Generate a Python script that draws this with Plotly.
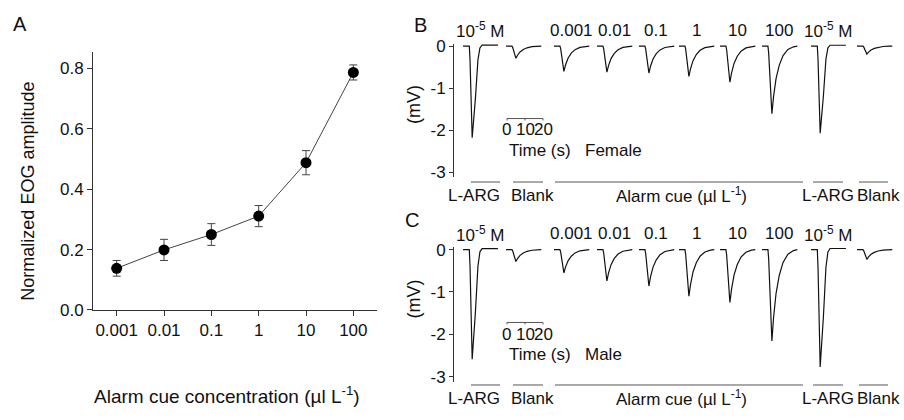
import plotly.graph_objects as go

W, H = 904, 420

# ---------------- Panel A data ----------------
conc = [0.001, 0.01, 0.1, 1, 10, 100]
conc_labels = ["0.001", "0.01", "0.1", "1", "10", "100"]
eog_mean = [0.138, 0.199, 0.250, 0.311, 0.488, 0.787]
eog_err = [0.026, 0.035, 0.036, 0.035, 0.040, 0.025]
a_yticks = [0.0, 0.2, 0.4, 0.6, 0.8]
a_yticklabels = ["0.0", "0.2", "0.4", "0.6", "0.8"]

# ---------------- Panels B/C data (EOG traces) ----------------
stimuli = ["L-ARG", "Blank", "0.001", "0.01", "0.1", "1", "10", "100", "L-ARG", "Blank"]
top_labels = ["10<sup>-5</sup> M", "", "0.001", "0.01", "0.1", "1", "10", "100", "10<sup>-5</sup> M", ""]
female_peak_mv = [-2.18, -0.29, -0.60, -0.62, -0.64, -0.72, -0.86, -1.61, -2.07, -0.19]
male_peak_mv = [-2.59, -0.28, -0.55, -0.74, -0.86, -1.10, -1.25, -2.16, -2.77, -0.23]
# response shapes (time in s, fraction of peak)
fast_t = [0.0, 3.5, 3.9, 5.1, 6.9, 8.3, 9.4, 10.6, 13.0, 19.4]
fast_f = [0.0, 0.0, -0.15, -1.0, -0.57, -0.15, -0.02, 0.01, 0.01, 0.01]
slow_t = [0.0, 3.3, 3.7, 4.5, 5.5, 6.4, 7.8, 9.6, 11.7, 14.4, 17.5, 19.6]
slow_f = [0.0, 0.0, -0.1, -0.55, -1.0, -0.75, -0.48, -0.28, -0.14, -0.05, -0.01, 0.0]
trace_mv_ticks = [0, -1, -2, -3]
trace_mv_labels = ["0", "-1", "-2", "-3"]
bar_labels = ["L-ARG", "Blank", "Alarm cue (µl L<sup>-1</sup>)", "L-ARG", "Blank"]

# ---------------- layout helpers (pixel positions) ----------------
def px(x):
    return x / W

def py(y):
    return 1 - y / H

PX_PER_S = 1.8
B_X0 = 454  # pixel of t = 0 for traces

def sec(xpx):
    return (xpx - B_X0) / PX_PER_S

slot_start_px = [463, 506, 554, 597, 639, 679, 720, 762, 811, 857]
bar_spans_px = [(471, 500), (513, 543), (555, 803), (813, 843), (859, 888)]
bar_label_px = [474, 532, 681, 828, 878]

FONT = "Liberation Sans, Arial, sans-serif"
INK = "#111111"
AX = "#333333"

fig = go.Figure()

# Panel A
fig.add_trace(go.Scatter(
    x=conc, y=eog_mean, mode="lines+markers",
    line=dict(color="#444444", width=1),
    marker=dict(color="black", size=11),
    error_y=dict(type="data", array=eog_err, color="#444444", thickness=1, width=4),
    xaxis="x", yaxis="y", showlegend=False, hoverinfo="skip"))

def add_traces(peaks, xa, ya):
    for i, (stim, pk) in enumerate(zip(stimuli, peaks)):
        t0 = sec(slot_start_px[i])
        if stim == "L-ARG":
            tt, ff = fast_t, fast_f
        else:
            tt, ff = slow_t, slow_f
        fig.add_trace(go.Scatter(
            x=[t0 + t for t in tt], y=[abs(pk) * f for f in ff],
            mode="lines", line=dict(color=INK, width=1.2),
            xaxis=xa, yaxis=ya, showlegend=False, hoverinfo="skip"))

add_traces(female_peak_mv, "x2", "y2")
add_traces(male_peak_mv, "x3", "y3")

tick_font = dict(family=FONT, size=17, color=INK)

# panel geometry
A_ZERO, A_EIGHT, A_TOP = 316, 65, 48
a_top_val = 0.8 + (A_EIGHT - A_TOP) * 0.8 / (A_ZERO - A_EIGHT)
A_dom_x = [px(93), px(377)]
A_dom_y = [py(A_ZERO), py(A_TOP)]
YR = [-3.12, 0.06]
B_top = 41.7 - 0.06 * 43.7
B_bot = B_top + 3.18 * 43.7
C_top = 253.3 - 0.06 * 44
C_bot = C_top + 3.18 * 44

fig.update_layout(
    width=W, height=H, margin=dict(l=0, r=0, t=0, b=0),
    paper_bgcolor="white", plot_bgcolor="white",
    font=dict(family=FONT, color=INK),
    xaxis=dict(domain=A_dom_x, anchor="y", type="log", range=[-3.5, 2.5],
               tickvals=conc, ticktext=conc_labels, ticks="outside", ticklen=5,
               tickcolor=AX, showline=True, linecolor=AX, linewidth=1,
               showgrid=False, zeroline=False, tickfont=tick_font),
    yaxis=dict(domain=A_dom_y, anchor="x", range=[0, a_top_val],
               tickvals=a_yticks, ticktext=a_yticklabels, ticks="outside", ticklen=5,
               tickcolor=AX, showline=True, linecolor=AX, linewidth=1,
               showgrid=False, zeroline=False, tickfont=tick_font),
    xaxis2=dict(domain=[px(B_X0), 1.0], anchor="y2", range=[0, (W - B_X0) / PX_PER_S],
                visible=False),
    yaxis2=dict(domain=[py(B_bot), py(B_top)], anchor="x2", range=YR,
                tickvals=trace_mv_ticks, ticktext=trace_mv_labels, ticks="outside",
                ticklen=4, tickcolor=AX, showline=True, linecolor=AX, linewidth=1,
                showgrid=False, zeroline=False, tickfont=tick_font),
    xaxis3=dict(domain=[px(B_X0), 1.0], anchor="y3", range=[0, (W - B_X0) / PX_PER_S],
                visible=False),
    yaxis3=dict(domain=[py(C_bot), py(C_top)], anchor="x3", range=YR,
                tickvals=trace_mv_ticks, ticktext=trace_mv_labels, ticks="outside",
                ticklen=4, tickcolor=AX, showline=True, linecolor=AX, linewidth=1,
                showgrid=False, zeroline=False, tickfont=tick_font),
)

ann = []
shapes = []

def text(x, y, s, size=17, xref="paper", xanchor="center", angle=0):
    ann.append(dict(x=x, y=y, xref=xref, yref="paper", text=s, showarrow=False,
                    xanchor=xanchor, yanchor="middle", textangle=angle,
                    font=dict(family=FONT, size=size, color=INK)))

# Panel A texts
text(px(20), py(19), "A", size=20)
text(px(28), py(193), "Normalized EOG amplitude", size=18, angle=-90)
text(px(227), py(404), "Alarm cue concentration (µl L<sup>-1</sup>)", size=19)

def panel_texts(letter, letter_x, letter_y, top_y, mv_y, bar_y, lab_y,
                sb_y, sb_lab_y, time_y, sex):
    text(px(letter_x), py(letter_y), letter, size=20)
    text(px(414), py(mv_y), "(mV)", size=18, angle=-90)
    for i, lab in enumerate(top_labels):
        if lab:
            text(sec(slot_start_px[i] + 17), py(top_y), lab, xref="x2")
    for (a, b), lab, cx in zip(bar_spans_px, bar_labels, bar_label_px):
        shapes.append(dict(type="line", xref="paper", yref="paper",
                           x0=px(a), x1=px(b), y0=py(bar_y), y1=py(bar_y),
                           line=dict(color="#555555", width=1)))
        text(px(cx), py(lab_y), lab)
    # time scale bar 0-20 s
    sb0 = sec(507)
    shapes.append(dict(type="line", xref="x2", yref="paper",
                       x0=sb0, x1=sb0 + 20, y0=py(sb_y), y1=py(sb_y),
                       line=dict(color="#555555", width=1)))
    for k, s in enumerate(["0", "10", "20"]):
        shapes.append(dict(type="line", xref="x2", yref="paper",
                           x0=sb0 + 10 * k, x1=sb0 + 10 * k, y0=py(sb_y), y1=py(sb_y + 2),
                           line=dict(color="#555555", width=1)))
        text(sb0 + 10 * k, py(sb_lab_y), s, xref="x2")
    text(px(507), py(time_y), "Time (s)", xanchor="left", size=17)
    text(px(583), py(time_y), sex, xanchor="left", size=17)

panel_texts("B", 420, 20, 25, 103, 183, 197, 117, 128, 150, "Female")
panel_texts("C", 412, 222, 237, 305, 394, 408, 329, 341.5, 362, "Male")

fig.update_layout(annotations=ann, shapes=shapes)
fig.write_html("out.html")
